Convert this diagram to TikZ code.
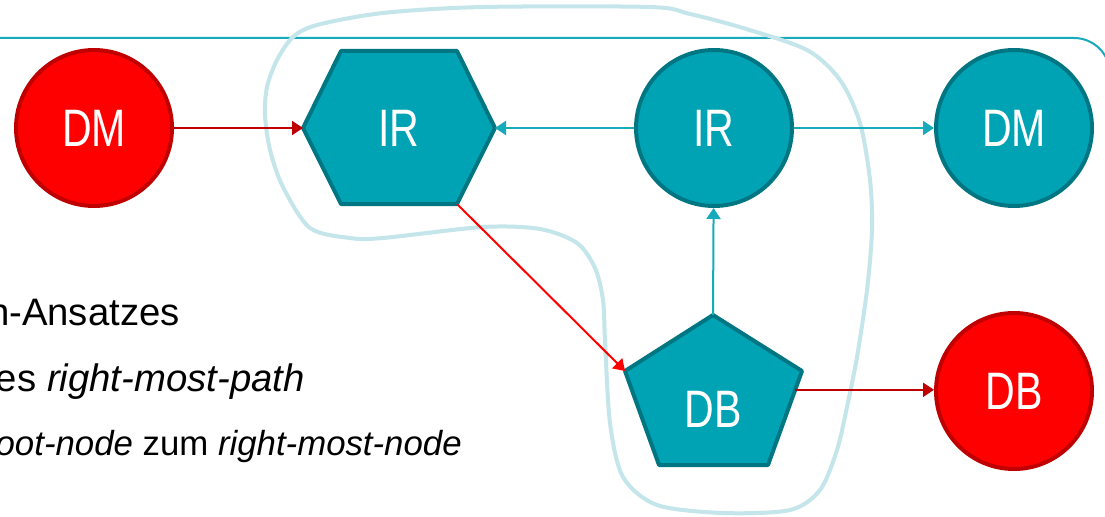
\documentclass[tikz,border=0pt]{standalone}
\usepackage{fontspec}
\setmainfont{Liberation Sans}
\newfontfamily\narrowsans{Liberation Sans}[FakeStretch=0.78]
\usetikzlibrary{arrows.meta,calc}

\definecolor{petrol}{HTML}{00A3B4}
\definecolor{petroldark}{HTML}{007682}
\definecolor{petrolline}{HTML}{16AABB}
\definecolor{hullblue}{HTML}{C4E5EA}
\definecolor{darkred}{HTML}{C00000}

\begin{document}
\begin{tikzpicture}[x=0.02cm, y=-0.02cm,
  lbl/.style={inner sep=0pt, text=white, font=\narrowsans\fontsize{30}{36}\selectfont},
  vertex/.style={lbl, circle, minimum size=3.12cm, line width=0.08cm},
  redvertex/.style={vertex, fill=red, draw=darkred},
  tealvertex/.style={vertex, fill=petrol, draw=petroldark},
  tealshape/.style={fill=petrol, draw=petroldark, line width=0.08cm, line join=round},
  edge/.style={line width=0.04cm, -{Triangle[length=0.22cm, width=0.28cm]}},
  body/.style={inner sep=0pt, anchor=base east, font=\fontsize{21.8}{26}\selectfont}]
\useasboundingbox (0,0) rectangle (1105,517);
\fill[white] (0,0) rectangle (1105,517);
\clip (0,0) rectangle (1105,517);
% Slide rule with rounded corner
\draw[petrolline, line width=0.04cm, rounded corners=0.72cm] (-10,38) -- (1110,38) -- (1110,400);
% Hull around the subgraph
\draw[hullblue, line width=0.08cm] plot[smooth cycle] coordinates {
  (650,7) (483,7) (383,13) (317,25) (293,37) (277,60) (267,87) (265,115)
  (270,150) (283,187) (310,228) (350,238) (383,238) (483,227) (540,229)
  (577,243) (595,268) (603,300) (605,340) (610,423) (623,477) (657,505)
  (723,513) (790,510) (820,490) (837,450) (847,407) (857,357) (867,290)
  (872,230) (870,180) (860,123) (840,80) (807,50) (743,28) (690,14)};
% Hexagon IR
\coordinate (h1) at (303,128);
\coordinate (h2) at (341,51);
\coordinate (h3) at (457,51);
\coordinate (h4) at (495,128);
\coordinate (h5) at (457,204);
\coordinate (h6) at (341,204);
\draw[tealshape] (h1) -- (h2) -- (h3) -- (h4) -- (h5) -- (h6) -- cycle;
\node[lbl] (irh) at (399,128) {IR};
% Pentagon DB
\coordinate (p1) at (713,315);
\coordinate (p2) at (802,371);
\coordinate (p3) at (768,465);
\coordinate (p4) at (659,465);
\coordinate (p5) at (625,371);
\draw[tealshape] (p1) -- (p2) -- (p3) -- (p4) -- (p5) -- cycle;
\node[lbl] (dbp) at (713,409) {DB};
% Circles
\node[redvertex] (dml) at (94,128) {DM};
\node[tealvertex] (irc) at (714,128) {IR};
\node[tealvertex] (dmr) at (1014,128) {DM};
\node[redvertex] (dbr) at (1014,391) {DB};
% Edges
\draw[edge, darkred] (dml) -- (h1);
\draw[edge, petrolline] (irc) -- (h4);
\draw[edge, petrolline] (irc) -- (dmr);
\draw[edge, petrolline] (p1) -- (irc);
\draw[edge, red] (h5) -- (p5);
\coordinate (pr) at ($(p2)!0.2!(p3)$);
\draw[edge, darkred] (pr) -- (pr -| dbr.west);
% Text
\node[body] (t1) at (180,325) {n-Ansatzes};
\node[body] (t2) at (305,391) {es \textit{right-most-path}};
\node[body, font=\fontsize{19.8}{24}\selectfont] (t3) at (462,455) {\textit{oot-node} zum \textit{right-most-node}};
\end{tikzpicture}
\end{document}
